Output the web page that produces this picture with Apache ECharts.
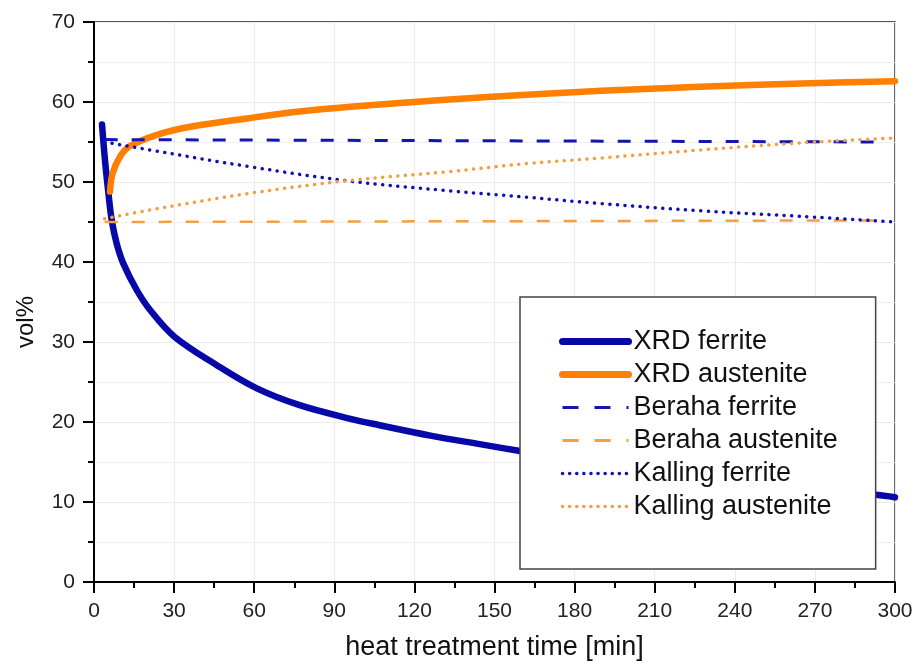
<!DOCTYPE html>
<html>
<head>
<meta charset="utf-8">
<title>vol% vs heat treatment time</title>
<script src="https://cdn.jsdelivr.net/npm/echarts@6/dist/echarts.min.js"></script>
<style>
  html, body { margin: 0; padding: 0; background: #fff; }
  #chart { width: 916px; height: 670px; }
</style>
</head>
<body>
<div id="chart"></div>
<script>
// values (time in min, vol%)
const xrdFerriteT = [3, 4.1, 5.4, 6.6, 8.5, 11, 16, 21, 30, 46, 61, 77, 96, 107, 126, 145, 159, 180, 210, 240, 270, 293, 300];
const xrdFerrite = [57.2, 52.8, 48.6, 45.3, 42.3, 39.8, 36.5, 34.0, 30.7, 27.1, 24.2, 22.1, 20.4, 19.6, 18.3, 17.2, 16.4, 15.3, 14.0, 12.8, 11.7, 10.9, 10.6];

const xrdAusteniteT = [6, 7, 10, 13.5, 23.6, 36, 58.5, 77, 96, 133, 162, 190, 227, 265, 300];
const xrdAustenite = [48.8, 51.1, 53.3, 54.5, 55.9, 56.9, 58.0, 58.8, 59.4, 60.3, 60.9, 61.4, 61.9, 62.3, 62.6];

const berahaT = [4, 295];
const berahaFerrite = [55.3, 55.0];
const berahaAustenite = [45.0, 45.2];

const kallingT = [4, 21, 58.5, 96, 133, 162, 190, 227, 265, 300];
const kallingFerrite = [55.0, 54.0, 51.9, 50.1, 48.9, 48.1, 47.3, 46.4, 45.7, 45.0];
const kallingAustenite = [45.4, 46.5, 48.6, 50.2, 51.3, 52.3, 53.0, 54.0, 54.9, 55.5];

const xTicks = [0, 30, 60, 90, 120, 150, 180, 210, 240, 270, 300];
const yTicks = [0, 10, 20, 30, 40, 50, 60, 70];

function pairs(ts, vs) {
  return ts.map((t, i) => [t, vs[i]]);
}

const chart = echarts.init(document.getElementById("chart"));

const axisText = { color: "#222", fontSize: 21, fontFamily: "Liberation Sans" };

const blue = "#0808a8";
const orange = "#ff8000";
const dotted = [0.1, 7.5];
const dashed = [13, 14];

chart.setOption({
  animation: false,
  grid: {
    left: 94,
    right: 21,
    top: 22,
    bottom: 88,
    show: true,
    borderColor: "#222",
    borderWidth: 1.5,
    backgroundColor: "#fff",
  },
  legend: {
    orient: "vertical",
    left: 520,
    top: 297,
    itemWidth: 66,
    itemHeight: 14,
    itemGap: 6,
    itemTextGap: 5,
    padding: [31, 38, 49, 39],
    backgroundColor: "#fff",
    borderColor: "#444",
    borderWidth: 1.5,
    borderRadius: 0,
    selectedMode: false,
    itemStyle: { opacity: 0 },
    textStyle: {
      color: "#111",
      fontSize: 27,
      lineHeight: 26,
      fontFamily: "Liberation Sans",
    },
    data: [
      { name: "XRD ferrite", lineStyle: { width: 7, color: blue, cap: "round" } },
      { name: "XRD austenite", lineStyle: { width: 7, color: orange, cap: "round" } },
      { name: "Beraha ferrite", lineStyle: { width: 3, color: "#1414b0", type: [16, 16] } },
      { name: "Beraha austenite", lineStyle: { width: 3, color: "#f5a03c", type: [16, 16] } },
      { name: "Kalling ferrite", lineStyle: { width: 3.5, color: "#1010b4", type: [0.1, 7], cap: "round" } },
      { name: "Kalling austenite", lineStyle: { width: 3.5, color: "#f0a040", type: [0.1, 7], cap: "round" } },
    ],
  },
  xAxis: {
    type: "value",
    min: 0,
    max: 300,
    interval: 30,
    name: "heat treatment time [min]",
    nameLocation: "middle",
    nameGap: 52,
    nameTextStyle: { color: "#111", fontSize: 27, fontFamily: "Liberation Sans" },
    axisLine: { show: true, onZero: false, lineStyle: { color: "#000", width: 2 } },
    axisTick: { show: true, inside: false, length: 11, lineStyle: { color: "#000", width: 2 } },
    minorTick: { show: true, splitNumber: 2, length: 6, lineStyle: { color: "#000", width: 2 } },
    axisLabel: Object.assign({ margin: 19, formatter: (v) => (xTicks.includes(v) ? String(v) : "") }, axisText),
    splitLine: { show: true, lineStyle: { color: "#ececec", width: 1.2 } },
  },
  yAxis: {
    type: "value",
    min: 0,
    max: 70,
    interval: 10,
    name: "vol%",
    nameLocation: "middle",
    nameGap: 56,
    nameTextStyle: {
      color: "#111",
      fontSize: 24,
      fontFamily: "Liberation Sans",
      padding: [0, 40, 0, 0],
    },
    axisLine: { show: true, onZero: false, lineStyle: { color: "#000", width: 2 } },
    axisTick: { show: true, inside: false, length: 11, lineStyle: { color: "#000", width: 2 } },
    minorTick: { show: true, splitNumber: 2, length: 6, lineStyle: { color: "#000", width: 2 } },
    axisLabel: Object.assign({ margin: 19, formatter: (v) => (yTicks.includes(v) ? String(v) : "") }, axisText),
    splitLine: { show: true, lineStyle: { color: "#ececec", width: 1.2 } },
    minorSplitLine: { show: true, lineStyle: { color: "#f0f0f0", width: 1.2 } },
  },
  series: [
    {
      name: "XRD ferrite",
      type: "line",
      data: pairs(xrdFerriteT, xrdFerrite),
      smooth: 0.35,
      showSymbol: false,
      symbol: "none",
      lineStyle: { color: blue, width: 6.5, cap: "round", join: "round" },
      itemStyle: { color: blue },
      z: 3,
    },
    {
      name: "XRD austenite",
      type: "line",
      data: pairs(xrdAusteniteT, xrdAustenite),
      smooth: 0.35,
      showSymbol: false,
      symbol: "none",
      lineStyle: { color: orange, width: 6.5, cap: "round", join: "round" },
      itemStyle: { color: orange },
      z: 3,
    },
    {
      name: "Beraha ferrite",
      type: "line",
      data: pairs(berahaT, berahaFerrite),
      showSymbol: false,
      symbol: "none",
      lineStyle: { color: "#1414b0", width: 3, type: dashed },
      itemStyle: { color: "#1414b0" },
    },
    {
      name: "Beraha austenite",
      type: "line",
      data: pairs(berahaT, berahaAustenite),
      showSymbol: false,
      symbol: "none",
      lineStyle: { color: "#f5a03c", width: 2.5, type: dashed },
      itemStyle: { color: "#f5a03c" },
    },
    {
      name: "Kalling ferrite",
      type: "line",
      data: pairs(kallingT, kallingFerrite),
      smooth: 0.35,
      showSymbol: false,
      symbol: "none",
      lineStyle: { color: "#1010b4", width: 3.5, type: dotted, cap: "round" },
      itemStyle: { color: "#1010b4" },
    },
    {
      name: "Kalling austenite",
      type: "line",
      data: pairs(kallingT, kallingAustenite),
      smooth: 0.35,
      showSymbol: false,
      symbol: "none",
      lineStyle: { color: "#f0a040", width: 3.5, type: dotted, cap: "round" },
      itemStyle: { color: "#f0a040" },
    },
  ],
});
</script>
</body>
</html>
